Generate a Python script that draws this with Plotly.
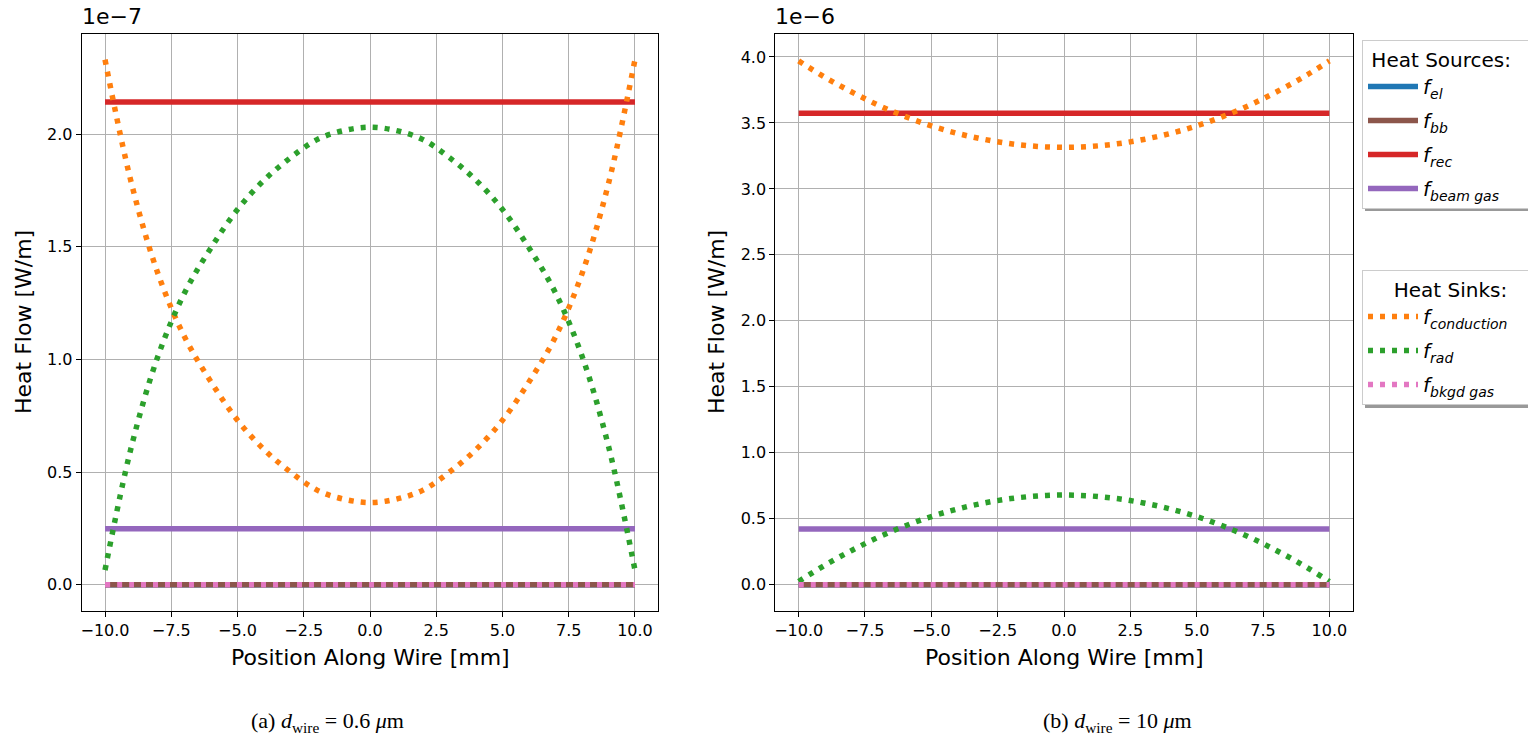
import plotly.graph_objects as go

# ---- data ----
x_mm = [-10, -9, -8, -7, -6, -5, -4, -3, -2, -1, 0, 1, 2, 3, 4, 5, 6, 7, 8, 9, 10]

# panel (a): d_wire = 0.6 um, values in W/m
a_el = [0.0] * 21
a_bb = [0.0] * 21
a_rec = [2.142e-7] * 21
a_beam_gas = [0.249e-7] * 21
a_conduction = [2.33e-7, 1.78e-7, 1.38e-7, 1.10e-7, 0.90e-7, 0.73e-7, 0.60e-7, 0.50e-7, 0.42e-7, 0.38e-7,
                0.365e-7,
                0.38e-7, 0.42e-7, 0.50e-7, 0.60e-7, 0.73e-7, 0.90e-7, 1.10e-7, 1.38e-7, 1.78e-7, 2.33e-7]
a_rad = [0.065e-7, 0.615e-7, 1.015e-7, 1.295e-7, 1.495e-7, 1.665e-7, 1.795e-7, 1.895e-7, 1.975e-7, 2.015e-7,
         2.03e-7,
         2.015e-7, 1.975e-7, 1.895e-7, 1.795e-7, 1.665e-7, 1.495e-7, 1.295e-7, 1.015e-7, 0.615e-7, 0.065e-7]
a_bkgd_gas = [0.0] * 21

# panel (b): d_wire = 10 um, values in W/m
b_el = [0.0] * 21
b_bb = [0.0] * 21
b_rec = [3.573e-6] * 21
b_beam_gas = [0.422e-6] * 21
b_conduction = [3.970e-6, 3.845e-6, 3.735e-6, 3.635e-6, 3.550e-6, 3.478e-6, 3.420e-6, 3.375e-6, 3.342e-6, 3.322e-6,
                3.315e-6,
                3.322e-6, 3.342e-6, 3.375e-6, 3.420e-6, 3.478e-6, 3.550e-6, 3.635e-6, 3.735e-6, 3.845e-6, 3.970e-6]
b_rad = [0.025e-6, 0.15e-6, 0.26e-6, 0.36e-6, 0.445e-6, 0.517e-6, 0.575e-6, 0.62e-6, 0.653e-6, 0.673e-6,
         0.68e-6,
         0.673e-6, 0.653e-6, 0.62e-6, 0.575e-6, 0.517e-6, 0.445e-6, 0.36e-6, 0.26e-6, 0.15e-6, 0.025e-6]
b_bkgd_gas = [0.0] * 21

scale_a = 1e-7
scale_b = 1e-6

y_ticks_a = [0.0, 0.5, 1.0, 1.5, 2.0]
y_ticks_b = [0.0, 0.5, 1.0, 1.5, 2.0, 2.5, 3.0, 3.5, 4.0]
x_ticks = [-10.0, -7.5, -5.0, -2.5, 0.0, 2.5, 5.0, 7.5, 10.0]

W, H = 1528, 738

C_EL = "#1f77b4"
C_BB = "#8c564b"
C_REC = "#d62728"
C_BEAM = "#9467bd"
C_COND = "#ff7f0e"
C_RAD = "#2ca02c"
C_BKGD = "#e377c2"

LW = 5.5
DOT = "5px,7px"
PAD = "&nbsp;" * 4

fig = go.Figure()

def add_panel(xa, ya, el, bb, rec, beam, cond, rad, bkgd, scale, show):
    def s(v):
        return [t / scale for t in v]
    specs = [
        (el, C_EL, "solid", "<i>f</i><sub><i>el</i></sub>", "legend", "el"),
        (bb, C_BB, "solid", "<i>f</i><sub><i>bb</i></sub>", "legend", "bb"),
        (rec, C_REC, "solid", "<i>f</i><sub><i>rec</i></sub>", "legend", "rec"),
        (beam, C_BEAM, "solid", "<i>f</i><sub><i>beam gas</i></sub>" + PAD, "legend", "beam"),
        (cond, C_COND, DOT, "<i>f</i><sub><i>conduction</i></sub>" + PAD, "legend2", "cond"),
        (rad, C_RAD, DOT, "<i>f</i><sub><i>rad</i></sub>", "legend2", "rad"),
        (bkgd, C_BKGD, DOT, "<i>f</i><sub><i>bkgd gas</i></sub>", "legend2", "bkgd"),
    ]
    for vals, col, dash, name, leg, grp in specs:
        fig.add_trace(go.Scatter(
            x=x_mm, y=s(vals), mode="lines", name=name,
            line=dict(color=col, width=LW, dash=dash, shape="spline"),
            xaxis=xa, yaxis=ya, legend=leg, legendgroup=grp, showlegend=show,
        ))

add_panel("x", "y", a_el, a_bb, a_rec, a_beam_gas, a_conduction, a_rad, a_bkgd_gas, scale_a, True)
add_panel("x2", "y2", b_el, b_bb, b_rec, b_beam_gas, b_conduction, b_rad, b_bkgd_gas, scale_b, False)

FONT = "DejaVu Sans"
tickfont = dict(family=FONT, size=16, color="black")

ax_common = dict(
    showline=True, linecolor="black", linewidth=1, mirror=True,
    ticks="outside", ticklen=5, tickwidth=1, tickcolor="black",
    showgrid=True, gridcolor="#b0b0b0", gridwidth=1,
    zeroline=False, tickfont=tickfont, tickformat=".1f", automargin=False,
)

y_top = 1 - 33.5 / H
y_bot = 1 - 611 / H

leg_common = dict(
    xanchor="left", yanchor="top",
    bgcolor="white", bordercolor="#cccccc", borderwidth=1,
    font=dict(family=FONT, size=20, color="black"),
    tracegroupgap=5, itemwidth=50,
)

fig.update_layout(
    width=W, height=H,
    margin=dict(l=0, r=0, t=0, b=0, autoexpand=False),
    plot_bgcolor="white", paper_bgcolor="white",
    xaxis=dict(domain=[81.7 / W, 658.3 / W], range=[-10.88, 10.88], tickvals=x_ticks, anchor="y", **ax_common),
    yaxis=dict(domain=[y_bot, y_top], range=[-0.1165, 2.446], tickvals=y_ticks_a, anchor="x", **ax_common),
    xaxis2=dict(domain=[775.3 / W, 1352.7 / W], range=[-10.88, 10.88], tickvals=x_ticks, anchor="y2", **ax_common),
    yaxis2=dict(domain=[y_bot, y_top], range=[-0.199, 4.178], tickvals=y_ticks_b, anchor="x2", **ax_common),
    legend=dict(
        x=1362 / W, y=1 - 40 / H,
        title=dict(text="&nbsp;Heat Sources:", side="top", font=dict(family=FONT, size=20, color="black")),
        **leg_common,
    ),
    legend2=dict(
        x=1362 / W, y=1 - 270 / H,
        title=dict(text="Heat Sinks:", side="top center", font=dict(family=FONT, size=20, color="black")),
        **leg_common,
    ),
    showlegend=True,
)

ann = []
# offset texts
ann.append(dict(text="1e\u22127", x=80 / W, y=1 - 16 / H, xref="paper", yref="paper",
                xanchor="left", yanchor="middle", showarrow=False,
                font=dict(family=FONT, size=22, color="black")))
ann.append(dict(text="1e\u22126", x=773 / W, y=1 - 16 / H, xref="paper", yref="paper",
                xanchor="left", yanchor="middle", showarrow=False,
                font=dict(family=FONT, size=22, color="black")))
# x axis titles
for cx in [370, 1064]:
    ann.append(dict(text="Position Along Wire [mm]", x=cx / W, y=1 - 657 / H, xref="paper", yref="paper",
                    xanchor="center", yanchor="middle", showarrow=False,
                    font=dict(family=FONT, size=22, color="black")))
# y axis titles
for cx in [23, 716]:
    ann.append(dict(text="Heat Flow [W/m]", x=cx / W, y=1 - 322 / H, xref="paper", yref="paper",
                    xanchor="center", yanchor="middle", showarrow=False, textangle=-90,
                    font=dict(family=FONT, size=22, color="black")))
# captions
ann.append(dict(text="(a) <i>d</i><sub>wire</sub> = 0.6 <i>\u03bc</i>m", x=327 / W, y=1 - 722 / H,
                xref="paper", yref="paper", xanchor="center", yanchor="middle", showarrow=False,
                font=dict(family="Liberation Serif", size=22, color="black")))
ann.append(dict(text="(b) <i>d</i><sub>wire</sub> = 10 <i>\u03bc</i>m", x=1117 / W, y=1 - 722 / H,
                xref="paper", yref="paper", xanchor="center", yanchor="middle", showarrow=False,
                font=dict(family="Liberation Serif", size=22, color="black")))
fig.update_layout(annotations=ann)

# legend drop shadows (only the bottom strip shows beneath the white legend boxes)
shapes = []
for (top_px, bot_px) in [(40, 208), (270, 405)]:
    shapes.append(dict(type="rect", xref="paper", yref="paper",
                       x0=(1362 + 3) / W, x1=1.0, y0=1 - (bot_px + 3) / H, y1=1 - (top_px + 3) / H,
                       fillcolor="#999999", line=dict(width=0), layer="above"))
fig.update_layout(shapes=shapes)

fig.write_html("out.html")
